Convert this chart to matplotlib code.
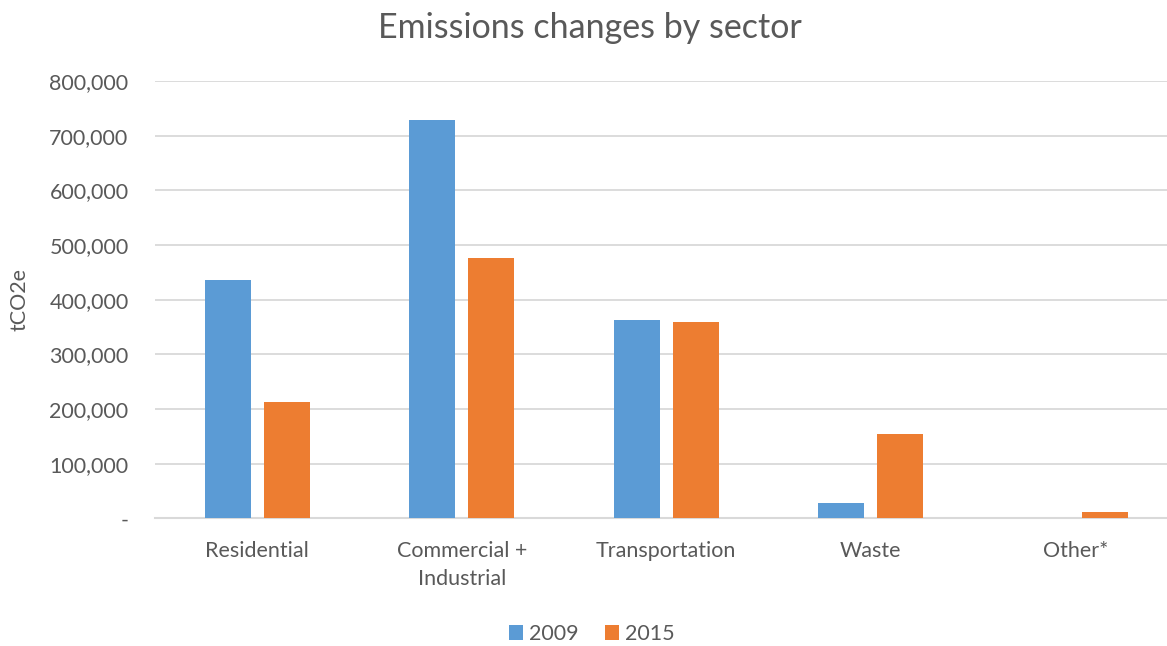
import numpy as np
import matplotlib.pyplot as plt
from matplotlib.ticker import FuncFormatter

sectors = ["Residential", "Commercial +\nIndustrial", "Transportation", "Waste", "Other*"]
emissions_2009 = [436000, 728700, 362800, 27400, 0]
emissions_2015 = [212800, 475600, 359100, 154200, 11500]
y_ticks = [0, 100000, 200000, 300000, 400000, 500000, 600000, 700000, 800000]

plt.rcParams['font.family'] = ['Lato', 'DejaVu Sans']
text_color = '#595959'
grid_color = '#d9d9d9'

fig = plt.figure(figsize=(11.67, 6.46), dpi=100)
ax = fig.add_axes([155 / 1167, (646 - 518.3) / 646, (1177.5 - 155) / 1167, 437.3 / 646])

x = np.arange(len(sectors))
width = 0.225
offset = 0.144
ax.bar(x - offset, emissions_2009, width, color='#5B9BD5', label='2009', zorder=3)
ax.bar(x + offset, emissions_2015, width, color='#ED7D31', label='2015', zorder=3)

ax.set_xlim(-0.5, len(sectors) - 0.5)
ax.set_ylim(0, 800000)
ax.set_yticks(y_ticks)
ax.yaxis.set_major_formatter(FuncFormatter(lambda v, p: '-' if v == 0 else f'{v:,.0f}'))
ax.set_xticks(x)
ax.set_xticklabels(sectors, linespacing=1.55)

ax.grid(axis='y', color=grid_color, linewidth=1.3, zorder=0)
for side in ['top', 'right', 'left']:
    ax.spines[side].set_visible(False)
ax.spines['bottom'].set_color(grid_color)
ax.spines['bottom'].set_linewidth(1.5)
ax.tick_params(axis='both', length=0, labelsize=15.5, colors=text_color)
ax.tick_params(axis='y', pad=19)
ax.tick_params(axis='x', pad=16)

ax.set_ylabel('tCO2e', fontsize=15.5, color=text_color)
ax.yaxis.set_label_coords(-0.123, 0.5)

fig.text(590 / 1167, 1 - 28 / 646, 'Emissions changes by sector', ha='center', va='center',
         fontsize=24.5, color=text_color)

fig.legend(loc='center', bbox_to_anchor=(592 / 1167, 1 - 634 / 646), ncol=2, frameon=False,
           fontsize=15.5, labelcolor=text_color, handlelength=0.65, handleheight=0.65,
           handletextpad=0.3, columnspacing=1.2)

fig.savefig('out.png', dpi=100)
